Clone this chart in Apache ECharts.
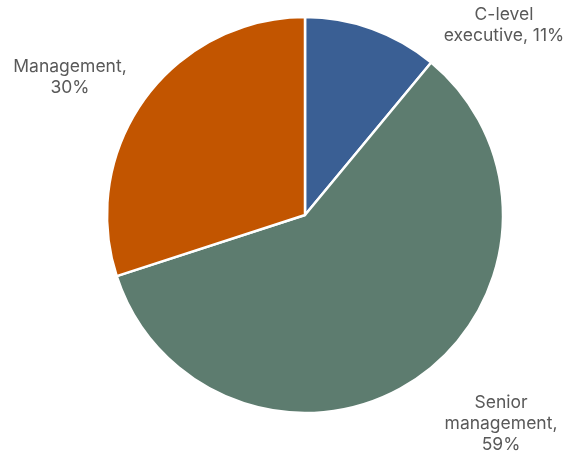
<!DOCTYPE html>
<html>
<head>
<meta charset="utf-8">
<script src="https://cdn.jsdelivr.net/npm/echarts@6/dist/echarts.min.js"></script>
<style>
  html, body { margin: 0; padding: 0; background: #fff; }
  #chart { width: 566px; height: 454px; }
</style>
</head>
<body>
<div id="chart"></div>
<script>
// Share of respondents by seniority level
const categories = ['C-level executive', 'Senior management', 'Management'];
const shares = [11, 59, 30];
const sliceColors = ['#3a5f94', '#5d7c6f', '#c25500'];

// Label text, line-broken as displayed beside each slice
const labelTexts = ['C-level\nexecutive, 11%', 'Senior\nmanagement,\n59%', 'Management,\n30%'];
// Label centres beside each slice
const labelAnchors = [[504, 25], [501, 424], [70, 77]];

const chart = echarts.init(document.getElementById('chart'), null, { renderer: 'canvas' });

chart.setOption({
  animation: false,
  backgroundColor: '#ffffff',
  series: [{
    type: 'pie',
    center: [305, 215],
    radius: [0, 198],
    startAngle: 90,
    clockwise: true,
    avoidLabelOverlap: false,
    itemStyle: { borderColor: '#ffffff', borderWidth: 2.5 },
    label: {
      show: true,
      position: 'outside',
      formatter: p => labelTexts[p.dataIndex],
      fontFamily: 'Inter',
      fontSize: 17.5,
      lineHeight: 21,
      color: '#595959',
      align: 'center'
    },
    labelLine: { show: false },
    labelLayout: p => ({
      x: labelAnchors[p.dataIndex][0],
      y: labelAnchors[p.dataIndex][1],
      align: 'center',
      verticalAlign: 'middle'
    }),
    data: categories.map((name, i) => ({
      name,
      value: shares[i],
      itemStyle: { color: sliceColors[i] }
    }))
  }]
});
</script>
</body>
</html>
